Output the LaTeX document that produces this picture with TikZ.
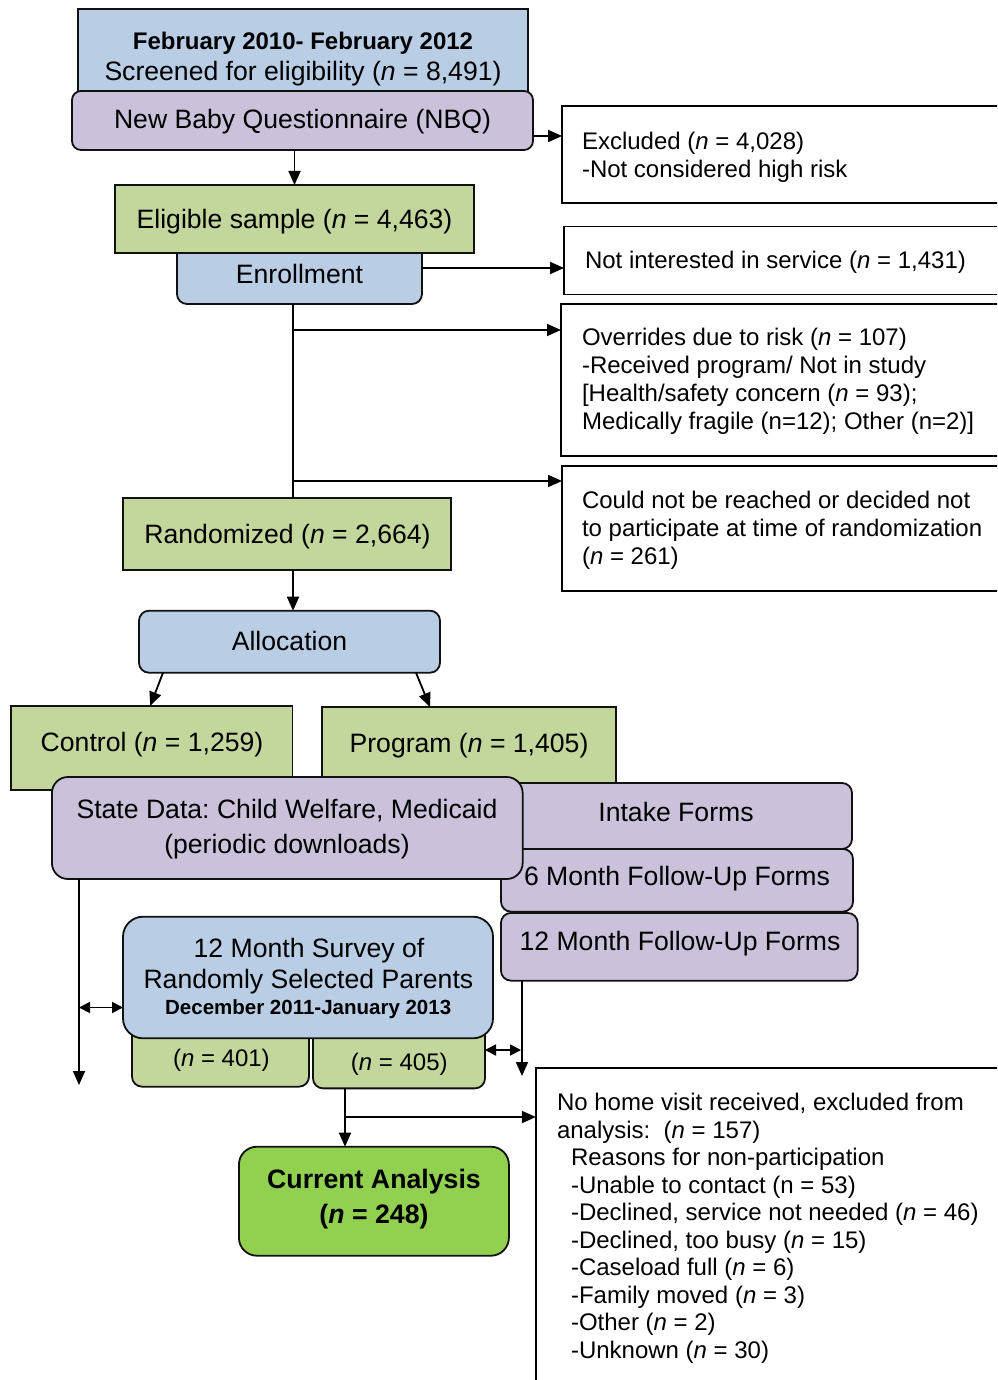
\documentclass[tikz,border=0pt]{standalone}
\usepackage{fontspec}
\setmainfont{Liberation Sans}
\usetikzlibrary{arrows.meta}
\definecolor{cblue}{HTML}{B9CDE5}
\definecolor{cpurp}{HTML}{CCC1DA}
\definecolor{cgreen}{HTML}{C3D69B}
\definecolor{cbright}{HTML}{92D050}
\definecolor{edge}{HTML}{111111}
\frenchspacing
\begin{document}
\frenchspacing
\begin{tikzpicture}[x=1pt,y=-1pt,
  lw/.style={line width=1.8pt, draw=black},
  bxd/.style={draw=edge, line width=1.8pt, inner sep=0pt, outer sep=0pt},
  rbox/.style={bxd, rounded corners=#1},
  rbox/.default=9pt,
  wbox/.style={draw=black, line width=1.8pt, fill=white, inner sep=0pt, outer sep=0pt},
  txt/.style={font=\fontsize{24}{28}\selectfont, inner sep=0pt, outer sep=0pt, text=black},
  ctxt/.style={font=\fontsize{26.6}{30}\selectfont, inner sep=0pt, outer sep=0pt, text=black},
  btxt/.style={font=\fontsize{24}{28}\selectfont\bfseries, inner sep=0pt, outer sep=0pt, text=black},
  arr/.style={lw, -{Triangle[length=14pt,width=12pt]}},
  darr/.style={lw, {Triangle[length=11pt,width=11pt]}-{Triangle[length=11pt,width=11pt]}},
]
\useasboundingbox (0,0) rectangle (997,1380);
\clip (0,0) rectangle (997,1380);

% ---- top
\node[bxd, fill=cblue, minimum width=450pt, minimum height=83pt] (feb) at (303,50.5) {};
\node[btxt, anchor=base] (febT1) at (303,50) {February 2010- February 2012};
\node[ctxt, anchor=base] (febT2) at (303,81) {Screened for eligibility (\textit{n} = 8,491)};
\node[rbox=9pt, fill=cpurp, minimum width=461pt, minimum height=59pt] (nbq) at (302.5,120.5) {};
\node[ctxt, anchor=base] (nbqT) at (302.5,128.6) {New Baby Questionnaire (NBQ)};

\node[wbox, minimum width=450pt, minimum height=97pt] (excl) at (787,154.5) {};
\node[txt, anchor=west, align=left] (exclT) at (582,156.8) {Excluded (\textit{n} = 4,028)\\-Not considered high risk};

\node[rbox=10pt, fill=cblue, minimum width=245pt, minimum height=64pt] (enroll) at (299.5,272) {};
\node[bxd, fill=cgreen, minimum width=359pt, minimum height=68pt] (elig) at (294.5,219) {};
\node[ctxt, anchor=base] (eligT) at (294.5,228.8) {Eligible sample (\textit{n} = 4,463)};
\node[ctxt, anchor=base] (enrollT) at (299.5,283) {Enrollment};

\node[wbox, minimum width=448pt, minimum height=68pt] (notint) at (788,260.5) {};
\node[txt, anchor=base west] (notintT) at (585,268.3) {Not interested in service (\textit{n} = 1,431)};

\node[wbox, minimum width=451pt, minimum height=152pt] (over) at (786.5,380) {};
\node[txt, anchor=west, align=left] (overT) at (582,381) {Overrides due to risk (\textit{n} = 107)\\-Received program/ Not in study\\{[}Health/safety concern (\textit{n} = 93);\\Medically fragile (n=12); Other (n=2)]};

\node[wbox, minimum width=450pt, minimum height=125pt] (could) at (787,528.5) {};
\node[txt, anchor=west, align=left] (couldT) at (582,530.2) {Could not be reached or decided not\\to participate at time of randomization\\(\textit{n} = 261)};

\node[bxd, fill=cgreen, minimum width=328pt, minimum height=72pt] (rand) at (287,534) {};
\node[ctxt, anchor=base] (randT) at (287.5,543) {Randomized (\textit{n} = 2,664)};

\node[rbox=10pt, fill=cblue, minimum width=301pt, minimum height=62pt] (alloc) at (289.5,641.7) {};
\node[ctxt, anchor=base] (allocT) at (289.5,650.5) {Allocation};

% ---- groups
\node[bxd, fill=cgreen, minimum width=294pt, minimum height=88pt] (program) at (469,751) {};
\node[ctxt, anchor=base] (programT) at (469,752) {Program (\textit{n} = 1,405)};
\node[bxd, fill=cgreen, minimum width=281.5pt, minimum height=84pt] (control) at (151.75,748) {};
\node[ctxt, anchor=base] (controlT) at (152,751) {Control (\textit{n} = 1,259)};

\node[rbox=10pt, fill=cpurp, minimum width=357pt, minimum height=66pt] (intake) at (673.5,816) {};
\node[ctxt, anchor=base] (intakeT) at (676,821) {Intake Forms};
\node[rbox=10pt, fill=cpurp, minimum width=352pt, minimum height=62.7pt] (six) at (677,880.3) {};
\node[ctxt, anchor=base] (sixT) at (677,885.3) {6 Month Follow-Up Forms};
\node[rbox=10pt, fill=cpurp, minimum width=356.7pt, minimum height=67.7pt] (twelve) at (679.3,946.8) {};
\node[ctxt, anchor=base] (twelveT) at (680,950.3) {12 Month Follow-Up Forms};

\node[rbox=16pt, fill=cpurp, minimum width=470.7pt, minimum height=102pt] (state) at (287.3,828) {};
\node[ctxt, anchor=base] (stateT1) at (287,818) {State Data: Child Welfare, Medicaid};
\node[ctxt, anchor=base] (stateT2) at (287,853) {(periodic downloads)};

% ---- survey
\node[rbox=10pt, fill=cgreen, minimum width=177pt, minimum height=76.7pt] (n401) at (220.5,1048.3) {};
\node[txt, anchor=base] (n401T) at (221.4,1066.7) {(\textit{n} = 401)};
\node[rbox=10pt, fill=cgreen, minimum width=172pt, minimum height=78.3pt] (n405) at (399,1049.2) {};
\node[txt, anchor=base] (n405T) at (399.3,1070) {(\textit{n} = 405)};
\node[rbox=20pt, fill=cblue, minimum width=370pt, minimum height=121.6pt] (survey) at (308,977.5) {};
\node[ctxt, anchor=base] (surveyT1) at (309,957.6) {12 Month Survey of};
\node[ctxt, anchor=base] (surveyT2) at (308.4,988.6) {Randomly Selected Parents};
\node[btxt, anchor=base, font=\fontsize{20.5}{24}\selectfont\bfseries] (surveyT3) at (308.2,1014) {December 2011-January 2013};

% ---- bottom
\node[rbox=18pt, fill=cbright, minimum width=270pt, minimum height=109pt] (current) at (373.9,1201.2) {};
\node[btxt, anchor=base, font=\fontsize{26.7}{30}\selectfont\bfseries] (currentT1) at (374,1188.5) {Current Analysis};
\node[btxt, anchor=base, font=\fontsize{26.7}{30}\selectfont\bfseries] (currentT2) at (374,1223.5) {(\textit{n} = 248)};

\node[wbox, minimum width=476pt, minimum height=332pt] (nohome) at (773.9,1234) {};
\node[txt, anchor=west, align=left, font=\fontsize{24}{27.48}\selectfont] (nohomeT) at (557,1228.2) {No home visit received, excluded from\\analysis:\ \ (\textit{n} = 157)\\\hspace*{14pt}Reasons for non-participation\\\hspace*{14pt}-Unable to contact (n = 53)\\\hspace*{14pt}-Declined, service not needed (\textit{n} = 46)\\\hspace*{14pt}-Declined, too busy (\textit{n} = 15)\\\hspace*{14pt}-Caseload full (\textit{n} = 6)\\\hspace*{14pt}-Family moved (\textit{n} = 3)\\\hspace*{14pt}-Other (\textit{n} = 2)\\\hspace*{14pt}-Unknown (\textit{n} = 30)};

% ---- connectors
\draw[arr] ([yshift=-15.5pt]nbq.east) -- ([yshift=-15.5pt]nbq.east -| excl.west);
\draw[arr] (nbq.south -| elig.north) -- (elig.north);
\draw[arr] ([yshift=4pt]enroll.east) -- ([yshift=4pt]enroll.east -| notint.west);
\coordinate (j1) at (293,330);
\coordinate (j2) at (293,481);
\draw[lw] (enroll.south -| j1) -- (rand.north -| j1);
\draw[arr] (j1) -- (j1 -| over.west);
\draw[arr] (j2) -- (j2 -| could.west);
\draw[arr] (rand.south -| j1) -- (alloc.north -| j1);
\draw[arr] ([xshift=-126.5pt]alloc.south) -- ([xshift=-1.5pt]control.north);
\draw[arr] ([xshift=126.5pt]alloc.south) -- ([xshift=-39pt]program.north);
\coordinate (sEnd) at (79,1085);
\draw[arr] (state.south -| sEnd) -- (sEnd);
\coordinate (d1) at (79,1007.5);
\draw[darr] (d1) -- (d1 -| survey.west);
\coordinate (tEnd) at (522,1076);
\draw[arr] (twelve.south -| tEnd) -- (tEnd);
\coordinate (d2) at (521,1050);
\draw[darr] (d2 -| n405.east) -- (d2);
\coordinate (d3) at (345,1117);
\draw[lw] (n405.south -| d3) -- (d3);
\draw[arr] (d3) -- (current.north -| d3);
\draw[arr] (d3) -- (d3 -| nohome.west);
\end{tikzpicture}
\end{document}
